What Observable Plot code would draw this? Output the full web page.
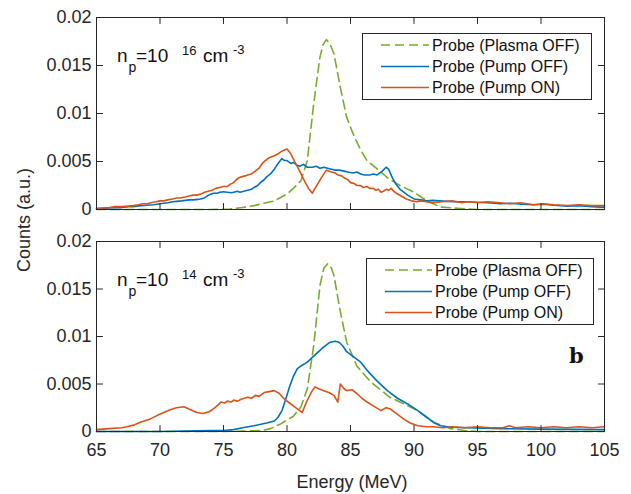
<!DOCTYPE html>
<html><head><meta charset="utf-8">
<script src="https://cdn.jsdelivr.net/npm/d3@7"></script>
<script src="https://cdn.jsdelivr.net/npm/@observablehq/plot@0.6"></script>
<style>
body{margin:0;background:#fff;}
#c{position:relative;width:631px;height:494px;overflow:hidden;font-family:"Liberation Sans",Arial,Helvetica,sans-serif;color:#262626;}
#c>.p{position:absolute;left:0;}
#ov{position:absolute;left:0;top:0;pointer-events:none;}
</style></head>
<body><div id="c"></div>
<script>
// ---------- data ----------
const xTicks = [65,70,75,80,85,90,95,100,105];
const yTicks = [0,0.005,0.01,0.015,0.02];
const seriesNames = ["Probe (Plasma OFF)","Probe (Pump OFF)","Probe (Pump ON)"];
const xTitle = "Energy (MeV)";
const yTitle = "Counts (a.u.)";
const densityTop = "16";
const densityBottom = "14";

// top panel (n_p = 1e16)
const topPlasmaOffE = [65,70,74,75.5,76.5,77.4,78,79,80,80.5,81.1,81.6,82.1,82.35,82.6,82.85,83.1,83.4,83.7,84.2,84.7,85.2,85.8,86.3,87.4,88,88.9,90,91,92.1,93.7,95,100,105];
const topPlasmaOffY = [0,0,0,0.00005,0.0002,0.0004,0.0006,0.0009,0.0016,0.0022,0.003,0.0051,0.011,0.0135,0.0159,0.0172,0.0177,0.0172,0.0162,0.0127,0.0096,0.0079,0.0062,0.0051,0.0039,0.0032,0.0025,0.0018,0.0009,0.00025,0.0001,0,0,0];

const topPumpOffE = [65,65.5,66,66.5,67,67.5,67.9,68.5,69,69.5,70,70.6,71,71.3,71.7,72,72.3,72.6,73,73.2,73.5,73.7,74,74.2,74.5,74.7,75,75.3,75.6,75.8,76.1,76.3,76.6,76.9,77.2,77.4,77.7,77.9,78.2,78.4,78.7,79,79.3,79.6,79.8,80,80.3,80.5,80.8,81,81.3,81.6,82,82.3,82.6,82.9,83.2,83.5,83.8,84.1,84.5,84.8,85.2,85.5,85.8,86.1,86.5,86.8,87.1,87.5,87.8,88,88.3,88.6,88.9,89.2,89.5,90,90.5,91,91.5,92,92.6,93.2,94.2,95,95.8,96.8,97.6,98.5,99.4,100.2,101,102.1,103,104,104.7,105];
const topPumpOffY = [0.0001,0.00012,0.00015,0.0002,0.0002,0.00028,0.0003,0.0004,0.00045,0.0005,0.0006,0.0007,0.0008,0.00085,0.0009,0.00095,0.001,0.001,0.00105,0.0011,0.0012,0.0014,0.0016,0.0017,0.0017,0.0018,0.00185,0.0018,0.00175,0.0018,0.0019,0.0018,0.0019,0.002,0.0021,0.0023,0.0025,0.0028,0.0031,0.0034,0.0037,0.0042,0.0048,0.0053,0.0051,0.0051,0.0048,0.0049,0.0046,0.0045,0.0047,0.0044,0.0044,0.0045,0.0043,0.0044,0.0043,0.0042,0.0041,0.0041,0.004,0.0039,0.0038,0.0039,0.0037,0.0036,0.0036,0.0037,0.0036,0.004,0.0044,0.0042,0.0033,0.0026,0.0021,0.0018,0.0015,0.0011,0.001,0.0009,0.00095,0.0009,0.00085,0.0008,0.0008,0.00075,0.0007,0.0006,0.00065,0.00055,0.0005,0.00055,0.00045,0.00035,0.0004,0.0003,0.00025,0.00025];

const topPumpOnE = [65,65.5,66,66.5,67,67.5,67.9,68.3,68.6,69,69.3,69.7,70,70.3,70.6,71,71.3,71.6,72,72.3,72.6,72.9,73.2,73.5,73.8,74.1,74.4,74.7,75,75.3,75.5,75.8,76,76.2,76.4,76.7,76.9,77.2,77.4,77.6,77.8,78,78.2,78.4,78.6,78.8,79,79.3,79.5,79.8,80,80.3,80.6,81,81.4,81.7,82,82.3,82.7,83.1,83.5,83.8,84,84.3,84.5,84.8,85,85.3,85.5,85.8,86,86.3,86.5,86.8,87,87.2,87.4,87.6,87.8,88,88.2,88.4,88.6,89,89.4,89.8,90.2,90.5,91,91.5,92.2,93,93.8,94.2,95,95.8,96.8,97.5,98.4,99.4,100.2,101,102.1,103,104,104.7,105];
const topPumpOnY = [0.0001,0.00015,0.0002,0.0003,0.0003,0.00035,0.0004,0.0005,0.0006,0.0006,0.0007,0.0008,0.0009,0.0009,0.001,0.0011,0.0012,0.0012,0.0013,0.0014,0.0015,0.0015,0.0016,0.0018,0.0019,0.002,0.0022,0.0023,0.0024,0.0024,0.0026,0.0028,0.0031,0.0033,0.0034,0.0035,0.0036,0.0037,0.0039,0.0041,0.0043,0.0047,0.005,0.0052,0.0054,0.0055,0.0056,0.0058,0.006,0.0062,0.0063,0.0058,0.005,0.004,0.0029,0.0022,0.0017,0.0024,0.0033,0.0041,0.0039,0.0038,0.0036,0.0035,0.0033,0.0031,0.0028,0.0027,0.0025,0.0025,0.0023,0.0024,0.0022,0.0022,0.002,0.0021,0.0018,0.0019,0.0021,0.002,0.0022,0.0019,0.0017,0.0014,0.0011,0.0009,0.0008,0.0009,0.0008,0.0007,0.0008,0.0009,0.0007,0.0008,0.0007,0.0008,0.0007,0.0006,0.0007,0.0005,0.0006,0.0005,0.0004,0.0005,0.0004,0.0004,0.0004];

// bottom panel (n_p = 1e14)
const botPlasmaOffE = [65,75,78,78.7,79,79.5,80,80.5,81.1,81.6,82.1,82.6,82.9,83.2,83.5,83.7,84.2,84.7,85.5,86.6,88.1,88.9,90.3,91.5,92.9,94,95,105];
const botPlasmaOffY = [0,0,0.0001,0.0003,0.0005,0.0008,0.0012,0.0016,0.0026,0.0045,0.009,0.0154,0.0172,0.01765,0.0172,0.0164,0.0126,0.0094,0.0069,0.0052,0.0036,0.0031,0.0022,0.001,0.0003,0.0001,0,0];

const botPumpOffE = [65,70,74,75,75.8,76.5,77.4,78.4,79,79.3,79.6,79.9,80.2,80.5,80.8,81.1,81.6,82,82.4,82.9,83.4,83.8,84.1,84.4,84.7,85.2,85.8,86.4,87.1,87.9,88.7,89.5,90.3,91,91.6,92.1,92.9,96.8,100,104.7,105];
const botPumpOffY = [0,0,0.0001,0.0001,0.0002,0.0004,0.0006,0.0009,0.0011,0.0015,0.0022,0.0034,0.0047,0.0058,0.0066,0.0069,0.0073,0.0078,0.0083,0.0089,0.0094,0.0095,0.0094,0.009,0.0084,0.0079,0.0073,0.0063,0.0053,0.0043,0.0035,0.0029,0.0022,0.0015,0.0009,0.0006,0.00045,0.0003,0.00025,0.0002,0.0002];

const botPumpOnE = [65,66,67,67.4,68,68.5,69.2,69.8,70.3,70.8,71.3,71.9,72.4,72.9,73.4,73.9,74.4,74.8,75.1,75.3,75.6,75.8,76.1,76.4,76.9,77.2,77.5,77.8,78.2,78.6,79,79.4,79.8,80.2,80.6,81,81.2,81.5,81.9,82.2,82.5,82.9,83.3,83.7,84,84.2,84.5,84.7,85.1,85.5,85.9,86.3,86.8,87.4,87.8,88.1,88.6,89.2,89.7,90.3,91,91.5,92.3,93,94,95,96,97,97.5,98,99,100,101,102,103,104,105];
const botPumpOnY = [0.0002,0.0003,0.0004,0.0005,0.0007,0.001,0.0013,0.0017,0.002,0.0023,0.0025,0.0026,0.0023,0.002,0.0019,0.0021,0.0026,0.0031,0.0030,0.0032,0.0031,0.0033,0.0032,0.0034,0.0036,0.0035,0.0038,0.0037,0.0041,0.0042,0.0043,0.004,0.0034,0.003,0.0026,0.0022,0.002,0.003,0.0041,0.0047,0.0045,0.0043,0.0041,0.0038,0.0031,0.005,0.0045,0.0043,0.0044,0.004,0.0035,0.0031,0.0027,0.0022,0.0025,0.0024,0.0019,0.0013,0.0009,0.0006,0.0005,0.0005,0.0004,0.0005,0.0004,0.0005,0.0004,0.0004,0.0006,0.0004,0.0005,0.0004,0.0005,0.0004,0.0005,0.0004,0.0005];

// ---------- drawing ----------
const AX = "#262626";
const GREEN = "#77AC30", BLUE = "#0072BD", RED = "#D95319";
const FONT = "'Liberation Sans', Arial, Helvetica, sans-serif";
const pts = (E, Y) => E.map((e, i) => ({e, v: Y[i]}));
const tickShape = {draw(context, l) { context.moveTo(0, 0); context.lineTo(0, -l); }};

function panel(h, mt, mb, plasma, off, on, showX) {
  const tk = {length: 6, anchor: "start", shape: tickShape, stroke: AX, strokeWidth: 1};
  const marks = [
    Plot.line(pts(...plasma), {x: "e", y: "v", stroke: GREEN, strokeWidth: 1.6, strokeDasharray: "9,5"}),
    Plot.line(pts(...off), {x: "e", y: "v", stroke: BLUE, strokeWidth: 1.6}),
    Plot.line(pts(...on), {x: "e", y: "v", stroke: RED, strokeWidth: 1.6}),
    Plot.frame({stroke: AX, strokeWidth: 1}),
    Plot.vector(xTicks.slice(1, -1), {...tk, x: d => d, frameAnchor: "bottom", rotate: 0}),
    Plot.vector(xTicks.slice(1, -1), {...tk, x: d => d, frameAnchor: "top", rotate: 180}),
    Plot.vector(yTicks.slice(1, -1), {...tk, y: d => d, frameAnchor: "left", rotate: 90}),
    Plot.vector(yTicks.slice(1, -1), {...tk, y: d => d, frameAnchor: "right", rotate: 270}),
    Plot.axisY(yTicks, {anchor: "left", tickSize: 0, tickPadding: 5, tickFormat: d => String(d), fill: AX, fontSize: 18, label: null})
  ];
  if (showX) marks.push(Plot.axisX(xTicks, {anchor: "bottom", tickSize: 0, tickPadding: 12, tickFormat: d => String(d), fill: AX, fontSize: 18, label: null}));
  const xScale = {domain: [65, 105], label: null};
  if (!showX) xScale.axis = null;
  return Plot.plot({
    width: 631, height: h,
    marginLeft: 96, marginRight: 27, marginTop: mt, marginBottom: mb,
    style: {fontFamily: FONT, color: AX, background: "transparent", overflow: "visible"},
    x: xScale,
    y: {domain: [0, 0.02], label: null},
    marks
  });
}

const c = document.getElementById("c");
const p1 = panel(225, 17, 16, [topPlasmaOffE, topPlasmaOffY], [topPumpOffE, topPumpOffY], [topPumpOnE, topPumpOnY], false);
p1.classList.add("p"); p1.style.top = "0px";
const p2 = panel(269, 16, 63, [botPlasmaOffE, botPlasmaOffY], [botPumpOffE, botPumpOffY], [botPumpOnE, botPumpOnY], true);
p2.classList.add("p"); p2.style.top = "225px";
c.appendChild(p1); c.appendChild(p2);

// overlay: titles, annotations, legends
const NS = "http://www.w3.org/2000/svg";
const ov = document.createElementNS(NS, "svg");
ov.setAttribute("id", "ov"); ov.setAttribute("width", 631); ov.setAttribute("height", 494);
c.appendChild(ov);
function el(tag, attrs, text) {
  const e = document.createElementNS(NS, tag);
  for (const k in attrs) e.setAttribute(k, attrs[k]);
  if (text != null) e.textContent = text;
  ov.appendChild(e); return e;
}
el("text", {x: 352, y: 488, "text-anchor": "middle", "font-family": FONT, "font-size": 18, fill: AX}, xTitle);
el("text", {transform: "translate(30,220) rotate(-90)", "text-anchor": "middle", "font-family": FONT, "font-size": 18, fill: AX}, yTitle);

function density(dy, exp) {
  const f = {"font-family": FONT, fill: "#111"};
  el("text", {...f, x: 117, y: 62 + dy, "font-size": 19}, "n");
  el("text", {...f, x: 128.5, y: 72 + dy, "font-size": 14}, "p");
  el("text", {...f, x: 136, y: 62 + dy, "font-size": 19}, "=10");
  el("text", {...f, x: 182, y: 55 + dy, "font-size": 13}, exp);
  el("text", {...f, x: 203, y: 62 + dy, "font-size": 19}, "cm");
  el("text", {...f, x: 233, y: 53.5 + dy, "font-size": 13}, "-3");
}
density(0, densityTop);
density(224, densityBottom);

function legend(x0, y0, w, lx0, lx1, tx) {
  el("rect", {x: x0 + 0.5, y: y0 + 0.5, width: w, height: 66, fill: "#fff", stroke: AX, "stroke-width": 1});
  const cols = [GREEN, BLUE, RED], dash = ["9,5", null, null];
  const rows = [12, 33.5, 54.5];
  for (let i = 0; i < 3; i++) {
    const a = {x1: lx0, x2: lx1, y1: y0 + rows[i], y2: y0 + rows[i], stroke: cols[i], "stroke-width": 1.6};
    if (dash[i]) a["stroke-dasharray"] = dash[i];
    el("line", a);
    el("text", {x: tx, y: y0 + rows[i] + 5.5, "font-family": FONT, "font-size": 16, fill: "#111"}, seriesNames[i]);
  }
}
legend(362, 33, 229, 381, 429, 432);
legend(366, 258, 227, 385, 432, 435);

el("text", {x: 569, y: 363, "font-family": "'DejaVu Serif', 'Liberation Serif', serif", "font-weight": "bold", "font-size": 21, fill: "#111"}, "b");
</script></body></html>
